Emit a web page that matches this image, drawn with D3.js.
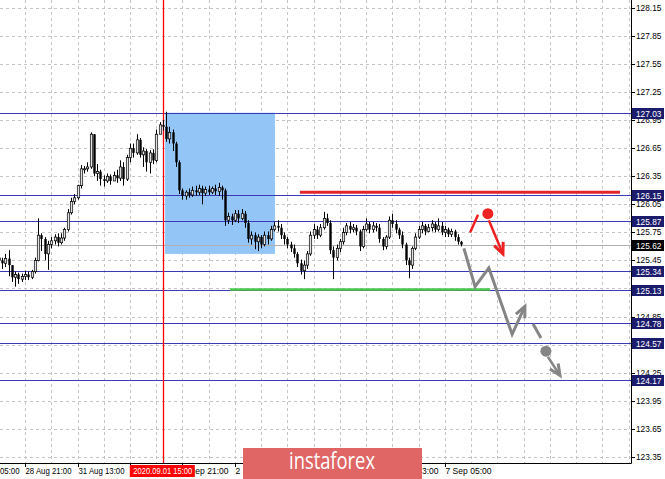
<!DOCTYPE html>
<html><head><meta charset="utf-8">
<script src="https://cdn.jsdelivr.net/npm/d3@7"></script>
<style>html,body{margin:0;padding:0;background:#fff;}svg{display:block;}</style>
</head><body>
<svg id="chart" width="665" height="479"></svg>
<script>
// ---- DATA ----
const firstOpen = 125.48;
const closes = [125.45,125.42,125.47,125.40,125.27,125.30,125.25,125.28,125.30,125.27,
125.33,125.45,125.72,125.68,125.52,125.62,125.66,125.70,125.64,125.69,
125.78,125.96,126.08,126.12,126.25,126.43,126.43,126.45,126.80,126.38,
126.40,126.32,126.30,126.35,126.30,126.36,126.33,126.45,126.32,126.55,
126.65,126.60,126.74,126.58,126.62,126.50,126.60,126.52,126.80,126.90,
126.88,126.75,126.82,126.70,126.50,126.20,126.14,126.18,126.15,126.20,
126.18,126.22,126.17,126.21,126.18,126.22,126.19,126.23,126.20,125.88,
125.92,125.88,125.95,125.90,125.95,125.85,125.68,125.72,125.65,125.70,
125.62,125.72,125.68,125.78,125.82,125.80,125.72,125.68,125.62,125.58,
125.52,125.42,125.34,125.40,125.52,125.72,125.78,125.72,125.80,125.90,
125.85,125.56,125.48,125.58,125.65,125.75,125.82,125.78,125.80,125.76,
125.60,125.78,125.84,125.78,125.82,125.80,125.68,125.60,125.70,125.88,
125.84,125.78,125.72,125.62,125.45,125.40,125.58,125.70,125.78,125.82,
125.76,125.80,125.84,125.78,125.82,125.75,125.78,125.73,125.76,125.70,
125.65,125.62];
const highs = [125.50,125.48,125.52,125.56,125.40,125.33,125.32,125.31,125.34,125.33,
125.35,125.48,125.90,125.74,125.70,125.66,125.70,125.73,125.74,125.74,
125.80,126.00,126.12,126.16,126.26,126.47,126.46,126.50,126.82,126.80,
126.48,126.42,126.36,126.38,126.37,126.40,126.42,126.52,126.50,126.58,
126.70,126.70,126.80,126.76,126.66,126.64,126.63,126.64,126.85,126.93,
126.95,127.04,126.88,126.85,126.72,126.52,126.22,126.20,126.22,126.24,
126.25,126.26,126.25,126.24,126.25,126.24,126.26,126.28,126.25,126.22,
125.96,125.95,125.99,125.99,126.00,125.98,125.88,125.76,125.75,125.73,
125.72,125.76,125.76,125.82,125.86,125.88,125.84,125.75,125.70,125.65,
125.62,125.54,125.46,125.45,125.55,125.76,125.84,125.82,125.84,125.97,
125.95,125.88,125.60,125.62,125.68,125.80,125.85,125.86,125.84,125.83,
125.78,125.82,125.90,125.86,125.86,125.85,125.84,125.70,125.72,125.92,
125.95,125.88,125.80,125.76,125.64,125.48,125.60,125.74,125.82,125.86,
125.84,125.84,125.88,125.86,125.90,125.86,125.82,125.80,125.79,125.78,
125.73,125.66];
const lows = [125.38,125.36,125.38,125.28,125.22,125.17,125.20,125.22,125.24,125.24,
125.25,125.31,125.44,125.55,125.45,125.35,125.58,125.62,125.60,125.62,
125.66,125.76,125.94,126.05,126.10,126.22,126.38,126.40,126.43,126.35,
126.30,126.25,126.24,126.28,126.26,126.30,126.28,126.30,126.25,126.30,
126.50,126.55,126.58,126.55,126.45,126.40,126.38,126.48,126.50,126.80,
126.84,126.72,126.70,126.62,126.45,126.16,126.10,126.10,126.12,126.13,
126.14,126.15,126.05,126.14,126.15,126.16,126.15,126.14,126.10,125.82,
125.84,125.83,125.86,125.85,125.88,125.80,125.64,125.62,125.57,125.55,
125.58,125.60,125.62,125.66,125.76,125.76,125.68,125.62,125.58,125.54,
125.48,125.38,125.30,125.25,125.36,125.50,125.68,125.68,125.70,125.78,
125.82,125.52,125.25,125.45,125.54,125.62,125.72,125.74,125.75,125.72,
125.55,125.58,125.76,125.74,125.75,125.76,125.64,125.56,125.57,125.68,
125.80,125.74,125.68,125.58,125.40,125.26,125.36,125.56,125.68,125.74,
125.72,125.75,125.76,125.75,125.76,125.72,125.70,125.70,125.70,125.66,
125.62,125.60];

const priceTicks = [128.15,127.85,127.55,127.25,126.95,126.65,126.35,126.05,125.75,125.45,125.15,124.85,124.55,124.25,123.95,123.65,123.35];
const levels = [127.03,126.15,125.87,125.34,125.13,124.78,124.57,124.17];
const currentPrice = 125.62;
const timeTickBars = [-8,8,24,40,56,72,88,104,120,136];
const timeTickLabels = ["28 Aug 05:00","28 Aug 21:00","31 Aug 13:00","1 Sep 05:00","1 Sep 21:00","2 Sep 13:00","3 Sep 05:00","3 Sep 21:00","4 Sep 13:00","7 Sep 05:00"];
const markerBar = 50, markerLabel = "2020.09.01 15:00";
const zoneBox = {i0:50.7, i1:84.2, p0:127.03, p1:125.52};
const resistanceLine = {i0:91.8, i1:189.4, p:126.18};
const supportLine = {i0:70.5, i1:149.8, p:125.14};
const redLead = [[143.7,125.75],[146.1,125.94]];
const redDot = [149.1,125.95];
const redArrow = [[149.4,125.88],[153.7,125.52]];
const grayPath = [[141.8,125.58],[145.2,125.17],[149.4,125.37],[156.5,124.66],[160.4,124.96]];
const grayDash = [[162.9,124.77],[165.3,124.62]];
const grayDot = [166.8,124.48];
const grayArrow = [[167.4,124.42],[171.1,124.22]];

// ---- LAYOUT ----
const svg = d3.select("#chart");
const plotR = 631, plotB = 463;
const x = d3.scaleLinear().domain([0,192]).range([-1.2, -1.2 + 3.28*192]);
const y = d3.scaleLinear().domain([123.35,128.15]).range([456.8, 8]);

svg.append("rect").attr("width",665).attr("height",479).attr("fill","#fff");
const defs = svg.append("defs");
defs.append("clipPath").attr("id","plot").append("rect").attr("x",0).attr("y",0).attr("width",plotR).attr("height",plotB);
const plot = svg.append("g").attr("clip-path","url(#plot)");

// grid
const gridBars = d3.range(0,193,8);
plot.selectAll(".vg").data(gridBars).enter().append("line")
  .attr("x1",d=>Math.round(x(d))+0.5).attr("x2",d=>Math.round(x(d))+0.5).attr("y1",0).attr("y2",plotB)
  .attr("stroke","#c4c4c4").attr("stroke-dasharray","3,3");
plot.selectAll(".hg").data(priceTicks).enter().append("line")
  .attr("x1",0).attr("x2",plotR).attr("y1",d=>Math.round(y(d))+0.5).attr("y2",d=>Math.round(y(d))+0.5)
  .attr("stroke","#c4c4c4").attr("stroke-dasharray","3,3");

// zone
plot.append("rect").attr("x",x(zoneBox.i0)).attr("width",x(zoneBox.i1)-x(zoneBox.i0))
  .attr("y",y(zoneBox.p0)).attr("height",y(zoneBox.p1)-y(zoneBox.p0)).attr("fill","#93c6f7");

// levels
plot.selectAll(".lv").data(levels).enter().append("line")
  .attr("x1",0).attr("x2",plotR).attr("y1",d=>Math.round(y(d))+0.5).attr("y2",d=>Math.round(y(d))+0.5)
  .attr("stroke","#3a3ab4").attr("stroke-width",1.2);
plot.append("line").attr("x1",0).attr("x2",plotR).attr("y1",Math.round(y(currentPrice))+0.5).attr("y2",Math.round(y(currentPrice))+0.5)
  .attr("stroke","#b0b0b0");

// marker vertical
const mxr = Math.round(x(markerBar))+0.5;
plot.append("line").attr("x1",mxr).attr("x2",mxr).attr("y1",0).attr("y2",plotB)
  .attr("stroke","#ff0000").attr("stroke-width",1.3);

// candles
const opens = [firstOpen].concat(closes.slice(0,-1));
const bars = closes.map((c,i)=>({i, o:opens[i], h:highs[i], l:lows[i], c}));
const cg = plot.append("g");
cg.selectAll(".wick").data(bars).enter().append("line")
  .attr("x1",d=>Math.round(x(d.i))+0.5).attr("x2",d=>Math.round(x(d.i))+0.5)
  .attr("y1",d=>y(d.h)).attr("y2",d=>y(d.l)).attr("stroke","#000").attr("stroke-width",1);
cg.selectAll(".body").data(bars).enter().append("rect")
  .attr("x",d=>Math.round(x(d.i))-0.7).attr("width",2.4)
  .attr("y",d=>y(Math.max(d.o,d.c))).attr("height",d=>Math.max(1,Math.abs(y(d.o)-y(d.c))))
  .attr("fill",d=>d.c>=d.o?"#e0e0e0":"#000").attr("stroke","#000").attr("stroke-width",d=>d.c>=d.o?0.7:0);

// resistance / support
plot.append("line").attr("x1",x(resistanceLine.i0)).attr("x2",x(resistanceLine.i1))
  .attr("y1",y(resistanceLine.p)).attr("y2",y(resistanceLine.p)).attr("stroke","#e3262c").attr("stroke-width",3);
plot.append("line").attr("x1",x(supportLine.i0)).attr("x2",x(supportLine.i1))
  .attr("y1",y(supportLine.p)).attr("y2",y(supportLine.p)).attr("stroke","#4cc84c").attr("stroke-width",2.5);

// arrows
const line = d3.line().x(d=>x(d[0])).y(d=>y(d[1]));
function head(g, pts, color){
  const a = pts[pts.length-2], b = pts[pts.length-1];
  const x1=x(a[0]), y1=y(a[1]), x2=x(b[0]), y2=y(b[1]);
  const ang = Math.atan2(y2-y1, x2-x1);
  const L=12, w=0.42;
  const p1=[x2-L*Math.cos(ang-w), y2-L*Math.sin(ang-w)];
  const p2=[x2-L*Math.cos(ang+w), y2-L*Math.sin(ang+w)];
  g.append("path").attr("d",`M${p1}L${x2},${y2}L${p2}`).attr("fill","none").attr("stroke",color).attr("stroke-width",3).attr("stroke-linejoin","miter");
}
const red = "#ee2222", gray = "#858585";
plot.append("path").attr("d",line(redLead)).attr("stroke",red).attr("stroke-width",2.5).attr("fill","none");
plot.append("circle").attr("cx",x(redDot[0])).attr("cy",y(redDot[1])).attr("r",5.5).attr("fill",red);
plot.append("path").attr("d",line(redArrow)).attr("stroke",red).attr("stroke-width",2.5).attr("fill","none");
head(plot, redArrow, red);
plot.append("path").attr("d",line(grayPath)).attr("stroke",gray).attr("stroke-width",3).attr("fill","none").attr("stroke-linejoin","miter");
head(plot, grayPath, gray);
plot.append("path").attr("d",line(grayDash)).attr("stroke",gray).attr("stroke-width",3).attr("fill","none");
plot.append("circle").attr("cx",x(grayDot[0])).attr("cy",y(grayDot[1])).attr("r",5.5).attr("fill",gray);
plot.append("path").attr("d",line(grayArrow)).attr("stroke",gray).attr("stroke-width",2.5).attr("fill","none");
head(plot, grayArrow, gray);

// axes frame
svg.append("line").attr("x1",plotR+0.5).attr("x2",plotR+0.5).attr("y1",0).attr("y2",plotB+0.5).attr("stroke","#000");
svg.append("line").attr("x1",0).attr("x2",plotR+0.5).attr("y1",plotB+0.5).attr("y2",plotB+0.5).attr("stroke","#000");

const font = "'Liberation Sans', Arial, sans-serif";
// price ticks
const pt = svg.append("g");
pt.selectAll(".tk").data(priceTicks).enter().append("line")
  .attr("x1",plotR).attr("x2",plotR+4).attr("y1",d=>Math.round(y(d))+0.5).attr("y2",d=>Math.round(y(d))+0.5).attr("stroke","#000");
pt.selectAll(".tl").data(priceTicks).enter().append("text")
  .attr("x",636).attr("y",d=>y(d)+3).attr("font-family",font).attr("font-size",8.3).attr("fill","#000")
  .text(d=>d.toFixed(2));
// level labels
const lg = svg.append("g");
lg.selectAll("rect").data(levels).enter().append("rect")
  .attr("x",632).attr("width",32).attr("y",d=>Math.round(y(d))-5).attr("height",11).attr("fill","#1c1c6c");
lg.selectAll("text").data(levels).enter().append("text")
  .attr("x",636).attr("y",d=>Math.round(y(d))+3.5).attr("font-family",font).attr("font-size",8.3).attr("fill","#fff")
  .text(d=>d.toFixed(2));
lg.append("rect").attr("x",632).attr("width",32).attr("y",Math.round(y(currentPrice))-5).attr("height",11).attr("fill","#000");
lg.append("text").attr("x",636).attr("y",Math.round(y(currentPrice))+3.5).attr("font-family",font).attr("font-size",8.3).attr("fill","#fff").text(currentPrice.toFixed(2));

// time axis (labels hidden where the date box and logo cover them)
const mx = x(markerBar);
const logo = {x:243, y:448, w:179, h:35};
const tclip = defs.append("clipPath").attr("id","tclip");
tclip.append("path").attr("d",
  `M0,464H${mx-33}V479H0Z M${mx+32},464H${logo.x}V479H${mx+32}Z M${logo.x+logo.w},464H665V479H${logo.x+logo.w}Z`);
const tg = svg.append("g");
const tl = svg.append("g").attr("clip-path","url(#tclip)");
timeTickBars.forEach((b,k)=>{
  const xx = Math.round(x(b))+0.5;
  tg.append("line").attr("x1",xx).attr("x2",xx).attr("y1",plotB).attr("y2",plotB+4).attr("stroke","#000");
  tl.append("text").attr("x",xx).attr("y",474).attr("font-family",font).attr("font-size",8.3)
    .attr("textLength",46).attr("lengthAdjust","spacingAndGlyphs").attr("fill","#000").text(timeTickLabels[k]);
});
tg.append("rect").attr("x",mx-33).attr("y",465).attr("width",65).attr("height",12).attr("fill","#ff0000");
tg.append("text").attr("x",mx).attr("y",474).attr("text-anchor","middle").attr("font-family",font).attr("font-size",8.3)
  .attr("textLength",59).attr("lengthAdjust","spacingAndGlyphs").attr("fill","#fff").text(markerLabel);

// logo
svg.append("rect").attr("x",logo.x).attr("y",logo.y).attr("width",logo.w).attr("height",logo.h).attr("fill","#e06666");
svg.append("text").attr("x",332).attr("y",469).attr("text-anchor","middle").attr("font-family","'Open Sans', sans-serif")
  .attr("font-size",24).attr("textLength",86).attr("lengthAdjust","spacingAndGlyphs").attr("fill","#fff").text("instaforex");
</script>
</body></html>
